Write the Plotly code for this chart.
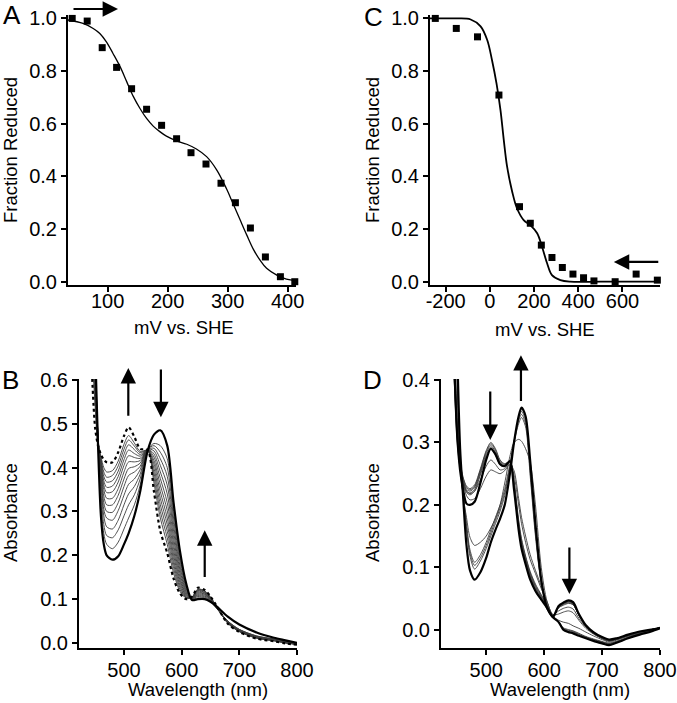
import plotly.graph_objects as go

W, H = 677, 703
FONT = "Liberation Sans, Arial, sans-serif"

# ---------------- Panel A: reductive titration ----------------
a_mv = [41, 66, 91, 115, 140, 165, 190, 215, 239, 264, 289, 313, 338, 363, 388, 412]
a_frac = [1.0, 0.99, 0.889, 0.814, 0.733, 0.655, 0.594, 0.543, 0.49, 0.447, 0.374, 0.30,
          0.204, 0.094, 0.019, 0.0]
a_fit_mv = [34, 59, 76, 87, 98, 109, 121, 132, 143, 154, 165, 176, 187, 198, 215, 232, 248,
            265, 282, 298, 309, 321, 332, 343, 354, 365, 382, 398, 414]
a_fit = [0.994, 0.981, 0.962, 0.943, 0.911, 0.867, 0.816, 0.759, 0.703, 0.658, 0.620, 0.591,
         0.570, 0.553, 0.535, 0.522, 0.504, 0.475, 0.424, 0.354, 0.297, 0.234, 0.177, 0.123,
         0.082, 0.051, 0.025, 0.010, 0.004]

# ---------------- Panel C: oxidative titration ----------------
c_mv = [-247, -152, -56, 41, 134, 183, 233, 281, 328, 376, 424, 471, 567, 662, 758]
c_frac = [1.0, 0.962, 0.930, 0.709, 0.285, 0.222, 0.139, 0.092, 0.054, 0.029, 0.015, 0.003,
          0.0, 0.029, 0.006]
c_fit_mv = [-271, -150, -87, -42, -12, 10, 30, 48, 63, 78, 101, 123, 153, 183, 214, 236, 259,
            281, 319, 364, 500, 770]
c_fit = [1.0, 1.0, 0.996, 0.97, 0.918, 0.84, 0.753, 0.652, 0.538, 0.437, 0.342, 0.278, 0.234,
         0.215, 0.184, 0.133, 0.07, 0.025, 0.006, 0.0, 0.0, 0.0]

# ---------------- Panel B: spectra (rows = wavelength; columns = reduced, 12 intermediates, oxidized) ----------------
b_nm = [444, 450, 455, 460, 465, 470, 480, 490, 500, 508, 518, 528, 541, 552, 563, 575, 586,
        597, 608, 618, 628, 640, 650, 660, 680, 700, 730, 760, 780, 800]
b_rows = [
    [1.0, 0.97, 0.94, 0.91, 0.88, 0.85, 0.82, 0.79, 0.76, 0.74, 0.72, 0.70, 0.68, 0.63],
    [0.68, 0.67, 0.66, 0.65, 0.64, 0.63, 0.62, 0.61, 0.60, 0.585, 0.57, 0.555, 0.54, 0.49],
    [0.45, 0.46, 0.465, 0.47, 0.47, 0.47, 0.47, 0.465, 0.46, 0.46, 0.455, 0.455, 0.45, 0.45],
    [0.29, 0.32, 0.345, 0.365, 0.38, 0.39, 0.40, 0.405, 0.41, 0.415, 0.42, 0.42, 0.425, 0.43],
    [0.225, 0.25, 0.27, 0.29, 0.305, 0.32, 0.335, 0.35, 0.36, 0.37, 0.38, 0.39, 0.40, 0.418],
    [0.20, 0.225, 0.245, 0.265, 0.285, 0.30, 0.315, 0.33, 0.343, 0.355, 0.367, 0.378, 0.39, 0.412],
    [0.19, 0.215, 0.24, 0.26, 0.28, 0.298, 0.315, 0.33, 0.345, 0.358, 0.37, 0.382, 0.393, 0.412],
    [0.198, 0.23, 0.258, 0.28, 0.302, 0.32, 0.337, 0.352, 0.367, 0.38, 0.392, 0.404, 0.415, 0.435],
    [0.225, 0.26, 0.29, 0.315, 0.337, 0.357, 0.374, 0.39, 0.405, 0.418, 0.43, 0.442, 0.453, 0.472],
    [0.25, 0.285, 0.315, 0.34, 0.362, 0.382, 0.398, 0.413, 0.427, 0.44, 0.452, 0.463, 0.473, 0.492],
    [0.29, 0.315, 0.338, 0.357, 0.374, 0.39, 0.402, 0.413, 0.423, 0.432, 0.441, 0.449, 0.456, 0.47],
    [0.345, 0.36, 0.374, 0.385, 0.395, 0.403, 0.41, 0.416, 0.421, 0.426, 0.43, 0.434, 0.437, 0.443],
    [0.438, 0.44, 0.441, 0.441, 0.442, 0.442, 0.442, 0.441, 0.441, 0.44, 0.44, 0.44, 0.439, 0.44],
    [0.475, 0.455, 0.45, 0.444, 0.438, 0.431, 0.424, 0.416, 0.408, 0.398, 0.388, 0.377, 0.365, 0.345],
    [0.485, 0.45, 0.435, 0.42, 0.405, 0.39, 0.375, 0.36, 0.345, 0.33, 0.315, 0.30, 0.285, 0.255],
    [0.45, 0.42, 0.40, 0.38, 0.36, 0.34, 0.32, 0.302, 0.285, 0.27, 0.255, 0.24, 0.225, 0.205],
    [0.32, 0.30, 0.285, 0.27, 0.255, 0.24, 0.226, 0.213, 0.201, 0.19, 0.18, 0.17, 0.16, 0.147],
    [0.21, 0.196, 0.186, 0.176, 0.167, 0.159, 0.151, 0.144, 0.138, 0.132, 0.127, 0.122, 0.118, 0.113],
    [0.135, 0.128, 0.124, 0.12, 0.117, 0.114, 0.111, 0.109, 0.107, 0.105, 0.104, 0.103, 0.102, 0.10],
    [0.098, 0.099, 0.10, 0.10, 0.101, 0.101, 0.102, 0.102, 0.103, 0.103, 0.104, 0.104, 0.105, 0.106],
    [0.10, 0.103, 0.106, 0.108, 0.11, 0.112, 0.114, 0.116, 0.118, 0.12, 0.121, 0.122, 0.123, 0.126],
    [0.10, 0.101, 0.103, 0.105, 0.107, 0.109, 0.111, 0.112, 0.114, 0.115, 0.117, 0.118, 0.119, 0.121],
    [0.094, 0.094, 0.095, 0.096, 0.097, 0.098, 0.099, 0.10, 0.101, 0.102, 0.103, 0.104, 0.105, 0.106],
    [0.084, 0.08, 0.08, 0.081, 0.081, 0.082, 0.082, 0.083, 0.083, 0.084, 0.084, 0.085, 0.085, 0.086],
    [0.06, 0.05, 0.05, 0.049, 0.049, 0.048, 0.048, 0.047, 0.047, 0.046, 0.046, 0.045, 0.045, 0.044],
    [0.042, 0.031, 0.031, 0.03, 0.03, 0.029, 0.029, 0.028, 0.028, 0.027, 0.027, 0.026, 0.026, 0.025],
    [0.024, 0.016, 0.016, 0.015, 0.015, 0.014, 0.014, 0.013, 0.013, 0.012, 0.012, 0.011, 0.011, 0.01],
    [0.012, 0.009, 0.009, 0.008, 0.008, 0.008, 0.007, 0.007, 0.007, 0.006, 0.006, 0.005, 0.005, 0.004],
    [0.006, 0.004, 0.004, 0.003, 0.003, 0.003, 0.002, 0.002, 0.002, 0.001, 0.001, 0.0, 0.0, -0.001],
    [0.0, -0.001, -0.001, -0.001, -0.002, -0.002, -0.002, -0.002, -0.003, -0.003, -0.003, -0.003, -0.003, -0.004],
]

# ---------------- Panel D: spectra ----------------
d_nm = [444, 450, 455, 460, 466, 472, 480, 490, 500, 508, 516, 524, 532, 541, 548, 556, 561,
        568, 576, 585, 595, 605, 615, 625, 633, 642, 650, 660, 672, 685, 700, 712, 725, 745,
        765, 785, 800]
d_reduced = [0.75, 0.45, 0.29, 0.215, 0.135, 0.095, 0.08, 0.092, 0.115, 0.14, 0.16, 0.178, 0.2,
             0.25, 0.3, 0.342, 0.356, 0.342, 0.27, 0.17, 0.08, 0.035, 0.02, 0.012, 0.0, -0.004,
             -0.006, -0.01, -0.014, -0.018, -0.022, -0.025, -0.021, -0.014, -0.008, -0.003, 0.002]
d_oxidized = [0.45, 0.31, 0.255, 0.225, 0.202, 0.20, 0.205, 0.235, 0.272, 0.29, 0.281, 0.265,
              0.262, 0.27, 0.225, 0.16, 0.13, 0.105, 0.08, 0.062, 0.048, 0.035, 0.02, 0.038,
              0.043, 0.047, 0.044, 0.025, 0.007, -0.004, -0.012, -0.016, -0.014, -0.008, -0.003,
              0.0, 0.003]
d_intermediates = [
    [0.72, 0.43, 0.28, 0.218, 0.16, 0.118, 0.097, 0.11, 0.13, 0.15, 0.17, 0.19, 0.215, 0.258,
     0.3, 0.338, 0.35, 0.335, 0.258, 0.16, 0.078, 0.038, 0.021, 0.013, 0.003, 0.0, -0.002,
     -0.006, -0.011, -0.015, -0.019, -0.022, -0.019, -0.013, -0.007, -0.002, 0.003],
    [0.70, 0.42, 0.275, 0.22, 0.165, 0.123, 0.103, 0.115, 0.135, 0.155, 0.175, 0.195, 0.22,
     0.262, 0.302, 0.335, 0.345, 0.33, 0.252, 0.155, 0.076, 0.038, 0.021, 0.012, 0.002, -0.001,
     -0.003, -0.007, -0.012, -0.016, -0.02, -0.023, -0.02, -0.013, -0.007, -0.002, 0.003],
    [0.68, 0.41, 0.27, 0.222, 0.17, 0.128, 0.108, 0.12, 0.14, 0.16, 0.18, 0.2, 0.225, 0.266,
     0.3, 0.33, 0.34, 0.325, 0.246, 0.15, 0.074, 0.037, 0.021, 0.012, 0.001, -0.002, -0.004,
     -0.008, -0.012, -0.016, -0.02, -0.022, -0.019, -0.012, -0.006, -0.002, 0.003],
    [0.62, 0.39, 0.27, 0.215, 0.18, 0.148, 0.135, 0.14, 0.15, 0.163, 0.178, 0.2, 0.235, 0.278,
     0.3, 0.305, 0.302, 0.29, 0.268, 0.2, 0.1, 0.045, 0.022, 0.015, 0.012, 0.01, 0.006, 0.002,
     -0.004, -0.01, -0.016, -0.02, -0.017, -0.011, -0.006, -0.001, 0.003],
    [0.50, 0.34, 0.27, 0.235, 0.215, 0.208, 0.21, 0.226, 0.246, 0.256, 0.253, 0.25, 0.255,
     0.265, 0.255, 0.21, 0.18, 0.15, 0.12, 0.095, 0.07, 0.045, 0.024, 0.025, 0.028, 0.03,
     0.027, 0.015, 0.002, -0.007, -0.014, -0.018, -0.016, -0.01, -0.005, -0.001, 0.003],
    [0.48, 0.33, 0.27, 0.24, 0.222, 0.218, 0.222, 0.24, 0.262, 0.272, 0.265, 0.256, 0.258,
     0.268, 0.248, 0.2, 0.17, 0.14, 0.112, 0.09, 0.066, 0.044, 0.024, 0.03, 0.034, 0.036,
     0.033, 0.018, 0.004, -0.006, -0.014, -0.018, -0.015, -0.01, -0.005, -0.001, 0.003],
    [0.44, 0.32, 0.27, 0.245, 0.23, 0.226, 0.232, 0.258, 0.287, 0.30, 0.29, 0.272, 0.266,
     0.27, 0.23, 0.165, 0.135, 0.11, 0.085, 0.065, 0.05, 0.036, 0.022, 0.037, 0.043, 0.046,
     0.043, 0.024, 0.006, -0.005, -0.013, -0.017, -0.015, -0.009, -0.004, 0.0, 0.003],
    [0.43, 0.315, 0.265, 0.243, 0.228, 0.224, 0.23, 0.256, 0.285, 0.298, 0.288, 0.27, 0.265,
     0.27, 0.232, 0.168, 0.138, 0.112, 0.087, 0.067, 0.052, 0.037, 0.022, 0.036, 0.042, 0.045,
     0.042, 0.024, 0.006, -0.005, -0.013, -0.017, -0.015, -0.009, -0.004, 0.0, 0.003],
    [0.43, 0.31, 0.262, 0.24, 0.225, 0.222, 0.228, 0.254, 0.282, 0.295, 0.285, 0.268, 0.264,
     0.27, 0.234, 0.17, 0.14, 0.114, 0.089, 0.069, 0.053, 0.038, 0.022, 0.036, 0.041, 0.044,
     0.041, 0.023, 0.005, -0.006, -0.014, -0.018, -0.015, -0.009, -0.004, 0.0, 0.003],
    [0.42, 0.305, 0.26, 0.238, 0.222, 0.219, 0.225, 0.251, 0.279, 0.292, 0.283, 0.266, 0.263,
     0.27, 0.236, 0.173, 0.143, 0.116, 0.091, 0.071, 0.055, 0.039, 0.022, 0.035, 0.04, 0.043,
     0.04, 0.023, 0.005, -0.006, -0.014, -0.018, -0.015, -0.009, -0.004, 0.0, 0.003],
    [0.42, 0.30, 0.258, 0.235, 0.22, 0.216, 0.222, 0.248, 0.276, 0.289, 0.28, 0.264, 0.262,
     0.27, 0.238, 0.176, 0.146, 0.118, 0.093, 0.073, 0.056, 0.04, 0.022, 0.035, 0.039, 0.042,
     0.04, 0.023, 0.005, -0.006, -0.014, -0.018, -0.015, -0.009, -0.004, 0.0, 0.003],
]

# tick labels
a_xticks = [100, 200, 300, 400]
frac_ticks = [0.0, 0.2, 0.4, 0.6, 0.8, 1.0]
c_xticks = [-200, 0, 200, 400, 600]
c_xticklabels = ["-200", "0", "200", "400", "600"]
nm_ticks = [500, 600, 700, 800]
b_yticks = [0.0, 0.1, 0.2, 0.3, 0.4, 0.5, 0.6]
d_yticks = [0.0, 0.1, 0.2, 0.3, 0.4]

fig = go.Figure()

# Panel A
fig.add_trace(go.Scatter(x=a_fit_mv, y=a_fit, mode="lines", line=dict(color="black", width=1.3, shape="spline"),
                         xaxis="x", yaxis="y", hoverinfo="skip"))
fig.add_trace(go.Scatter(x=a_mv, y=a_frac, mode="markers", marker=dict(symbol="square", size=7, color="black"),
                         xaxis="x", yaxis="y", cliponaxis=False))
# Panel C
fig.add_trace(go.Scatter(x=c_fit_mv, y=c_fit, mode="lines", line=dict(color="black", width=1.8, shape="spline"),
                         xaxis="x2", yaxis="y2", hoverinfo="skip"))
fig.add_trace(go.Scatter(x=c_mv, y=c_frac, mode="markers", marker=dict(symbol="square", size=7, color="black"),
                         xaxis="x2", yaxis="y2", cliponaxis=False))

# Panel B
b_spectra = [list(col) for col in zip(*b_rows)]
for spec in b_spectra[1:-1]:
    fig.add_trace(go.Scatter(x=b_nm, y=spec, mode="lines",
                             line=dict(color="#3c3c3c", width=0.9, shape="spline", smoothing=0.8),
                             xaxis="x3", yaxis="y3"))
fig.add_trace(go.Scatter(x=b_nm, y=b_spectra[-1], mode="lines",
                         line=dict(color="black", width=2.2, dash="dot", shape="spline", smoothing=0.8),
                         xaxis="x3", yaxis="y3"))
fig.add_trace(go.Scatter(x=b_nm, y=b_spectra[0], mode="lines",
                         line=dict(color="black", width=2.2, shape="spline", smoothing=0.8),
                         xaxis="x3", yaxis="y3"))

# Panel D
for spec in d_intermediates:
    fig.add_trace(go.Scatter(x=d_nm, y=spec, mode="lines",
                             line=dict(color="#3c3c3c", width=0.9, shape="spline", smoothing=0.8),
                             xaxis="x4", yaxis="y4"))
for spec in (d_oxidized, d_reduced):
    fig.add_trace(go.Scatter(x=d_nm, y=spec, mode="lines",
                             line=dict(color="black", width=2.2, shape="spline", smoothing=0.8),
                             xaxis="x4", yaxis="y4"))


def dom_x(p0, p1):
    return [p0 / W, p1 / W]


def dom_y(top, bottom):
    return [1 - bottom / H, 1 - top / H]


axis_style = dict(showline=True, linecolor="black", linewidth=2, ticks="outside", ticklen=5,
                  tickwidth=2, tickcolor="black", showgrid=False, zeroline=False, automargin=False,
                  tickfont=dict(family=FONT, size=20, color="black"), fixedrange=True)

fig.update_layout(
    width=W, height=H, margin=dict(l=0, r=0, t=0, b=0, autoexpand=False),
    paper_bgcolor="white", plot_bgcolor="white", showlegend=False,
    font=dict(family=FONT, size=18, color="black"),
    xaxis=dict(domain=dom_x(68, 296), range=[34, 414], anchor="y", tickvals=a_xticks,
               ticklabelstandoff=-8, **axis_style),
    yaxis=dict(domain=dom_y(15, 285), range=[-0.0125, 1.013], anchor="x", tickvals=frac_ticks,
               tickformat=".1f", ticklabelstandoff=0, **axis_style),
    xaxis2=dict(domain=dom_x(430, 660), range=[-271, 770], anchor="y2", tickvals=c_xticks,
                ticktext=c_xticklabels, ticklabelstandoff=-8, **axis_style),
    yaxis2=dict(domain=dom_y(15, 285), range=[-0.0125, 1.013], anchor="x2", tickvals=frac_ticks,
                tickformat=".1f", ticklabelstandoff=0, **axis_style),
    xaxis3=dict(domain=dom_x(79, 297), range=[422, 800], anchor="y3", tickvals=nm_ticks,
                ticklabelstandoff=-2, **axis_style),
    yaxis3=dict(domain=dom_y(379, 648), range=[-0.0114, 0.602], anchor="x3", tickvals=b_yticks,
                tickformat=".1f", ticklabelstandoff=0, **axis_style),
    xaxis4=dict(domain=dom_x(441, 660), range=[422, 800], anchor="y4", tickvals=nm_ticks,
                ticklabelstandoff=-2, **axis_style),
    yaxis4=dict(domain=dom_y(379, 648), range=[-0.0295, 0.4018], anchor="x4", tickvals=d_yticks,
                tickformat=".1f", ticklabelstandoff=0, **axis_style),
)

annotations = []


def label(text, px, py, size=18.5, angle=0):
    annotations.append(dict(text=text, x=px / W, y=1 - py / H, xref="paper", yref="paper",
                            showarrow=False, xanchor="center", yanchor="middle", textangle=angle,
                            font=dict(family=FONT, size=size, color="black")))


# panel letters
label("A", 12, 15, 26)
label("B", 10, 380, 26)
label("C", 373, 17, 26)
label("D", 372, 380, 26)
# axis titles
label("Fraction Reduced", 10, 150, 18.5, -90)
label("mV vs. SHE", 184, 328)
label("Fraction Reduced", 372, 150, 18.5, -90)
label("mV vs. SHE", 545, 329)
label("Absorbance", 10, 513, 18.5, -90)
label("Wavelength (nm)", 198, 689)
label("Absorbance", 372, 513, 18.5, -90)
label("Wavelength (nm)", 560, 689)


def arrow(xr, yr, x_tail, y_tail, x_head, y_head):
    annotations.append(dict(x=x_head, y=y_head, ax=x_tail, ay=y_tail, xref=xr, yref=yr,
                            axref=xr, ayref=yr, showarrow=True, arrowhead=2, arrowsize=1.4,
                            arrowwidth=2.2, arrowcolor="black", text="", standoff=0))


# Panel A arrow sits above the plot area, so place it on the page (paper units)
annotations.append(dict(x=118 / W, y=1 - 9 / H, xref="paper", yref="paper", ax=-46, ay=0,
                        axref="pixel", ayref="pixel", showarrow=True, arrowhead=2, arrowsize=1.4,
                        arrowwidth=2.2, arrowcolor="black", text="", standoff=0))
arrow("x2", "y2", 769, 0.075, 561, 0.075)
arrow("x3", "y3", 507.5, 0.515, 507.5, 0.627)
arrow("x3", "y3", 564, 0.627, 564, 0.515)
arrow("x3", "y3", 640, 0.147, 640, 0.257)
arrow("x4", "y4", 507, 0.384, 507, 0.304)
arrow("x4", "y4", 560, 0.364, 560, 0.44)
arrow("x4", "y4", 643.6, 0.134, 643.6, 0.057)

fig.update_layout(annotations=annotations)
fig.write_html("out.html", config={"displayModeBar": False, "staticPlot": True},
               post_script="document.body.style.margin='0';document.body.style.overflow='hidden';")
